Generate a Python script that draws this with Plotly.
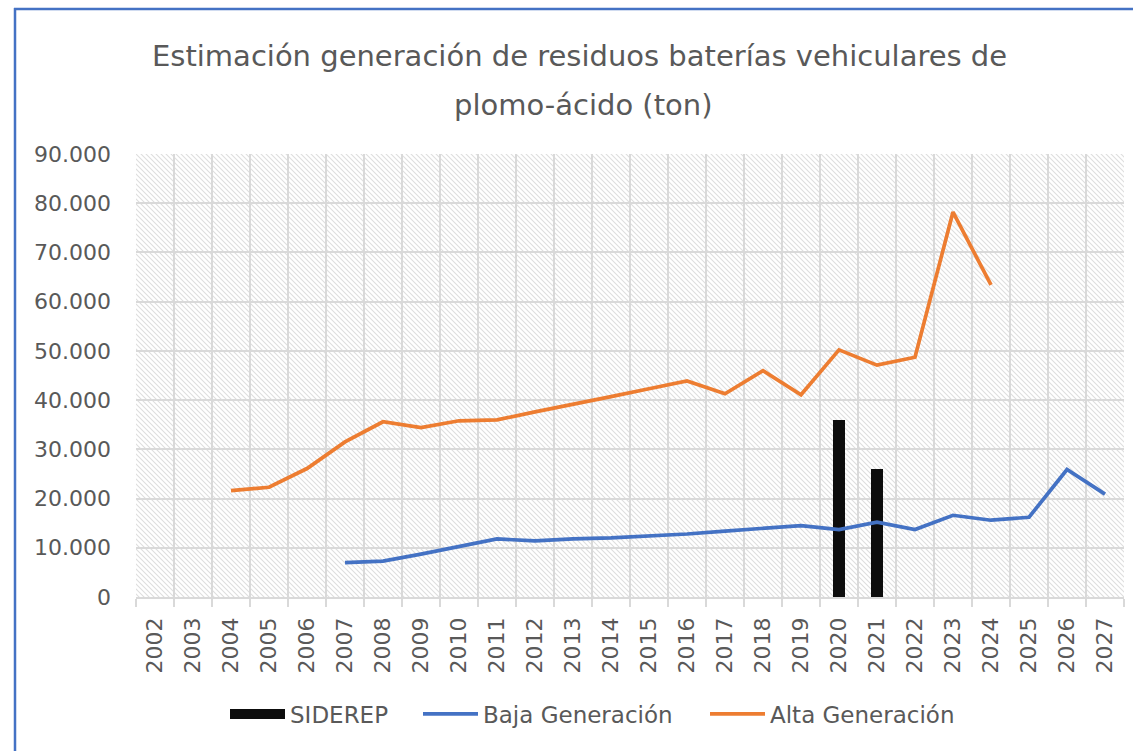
import base64
import plotly.graph_objects as go

years = [str(y) for y in range(2002, 2028)]

siderep = [None] * 18 + [36000, 26000] + [None] * 6
baja = [None] * 5 + [7000, 7300, 8700, 10300, 11800, 11400, 11800, 12000, 12400, 12800,
                     13400, 14000, 14500, 13700, 15200, 13700, 16600, 15600, 16200, 25900, 20900]
alta = [None] * 2 + [21600, 22300, 26100, 31500, 35600, 34400, 35800, 36000, 37600, 39100,
                     40700, 42300, 43900, 41300, 46000, 41100, 50200, 47100, 48700, 78200, 63400] + [None] * 3

GREY = "#595959"
GRID = "#d9d9d9"
FONT_TICK = "DejaVu Sans"
FONT_TEXT = "DejaVu Sans"

W, H = 1133, 751
ML, MR, MT, MB = 136, 9, 154, 154
PW, PH = W - ML - MR, H - MT - MB

# hatched background pattern for the plot area
svg = f'''<svg xmlns="http://www.w3.org/2000/svg" width="{PW}" height="{PH}">
<defs><pattern id="h" width="5" height="5" patternUnits="userSpaceOnUse">
<path d="M-1,-1 L6,6 M-1,4 L1,6 M4,-1 L6,1" stroke="#dedede" stroke-width="1.1"/>
</pattern></defs><rect width="{PW}" height="{PH}" fill="#ffffff"/>
<rect width="{PW}" height="{PH}" fill="url(#h)"/></svg>'''
svg_uri = "data:image/svg+xml;base64," + base64.b64encode(svg.encode()).decode()

fig = go.Figure()
fig.add_trace(go.Bar(x=years, y=siderep, name="SIDEREP", marker_color="#0d0d0d",
                     width=0.34, marker_line_width=0, showlegend=False, legendgroup="sid"))
# legend entry for the bars (wide black block, as in the original legend)
fig.add_trace(go.Scatter(x=[None], y=[None], name="SIDEREP", mode="lines", legendgroup="sid",
                         legend="legend", line=dict(color="#0d0d0d", width=18)))
fig.add_trace(go.Scatter(x=years, y=baja, name="Baja Generación", mode="lines", legend="legend2",
                         line=dict(color="#4472C4", width=3.7)))
fig.add_trace(go.Scatter(x=years, y=alta, name="Alta Generación", mode="lines", legend="legend3",
                         line=dict(color="#ED7D31", width=3.7)))

def px2x(px):
    return (px - ML) / PW

def px2y(py):
    return (H - MB - py) / PH

def legend_at(px):
    return dict(orientation="h", x=px2x(px), y=px2y(714), xanchor="left", yanchor="middle",
                font=dict(family=FONT_TEXT, size=23, color=GREY),
                itemwidth=55, bgcolor="rgba(0,0,0,0)")

fig.update_layout(
    width=W, height=H,
    margin=dict(l=ML, r=MR, t=MT, b=MB),
    paper_bgcolor="white", plot_bgcolor="white",
    separators=",.",
    showlegend=True,
    legend=legend_at(230 - 5),
    legend2=legend_at(424 - 6),
    legend3=legend_at(711 - 6),
    images=[dict(source=svg_uri, xref="paper", yref="paper", x=0, y=1, sizex=1, sizey=1,
                 sizing="stretch", layer="below", xanchor="left", yanchor="top")],
    annotations=[
        dict(text="Estimación generación de residuos baterías vehiculares de", xref="paper", yref="paper",
             x=px2x(579), y=px2y(56), xanchor="center", yanchor="middle", showarrow=False,
             font=dict(family=FONT_TEXT, size=29, color=GREY)),
        dict(text="plomo-ácido (ton)", xref="paper", yref="paper",
             x=px2x(583), y=px2y(105), xanchor="center", yanchor="middle", showarrow=False,
             font=dict(family=FONT_TEXT, size=29, color=GREY)),
    ],
    shapes=[
        dict(type="line", xref="paper", yref="paper", x0=px2x(15), x1=px2x(15), y0=px2y(8), y1=px2y(760),
             line=dict(color="#4472C4", width=2.5)),
        dict(type="line", xref="paper", yref="paper", x0=px2x(14), x1=px2x(1140), y0=px2y(9), y1=px2y(9),
             line=dict(color="#4472C4", width=2.5)),
    ],
    bargap=0,
)

fig.update_xaxes(type="category", tickson="boundaries", tickangle=-90,
                 showgrid=True, gridcolor=GRID, gridwidth=1.5,
                 showline=True, linecolor=GRID, linewidth=1.5,
                 ticks="outside", ticklen=8, tickcolor=GRID, tickwidth=1.5,
                 tickfont=dict(family=FONT_TICK, size=22, color=GREY),
                 ticklabelstandoff=10, range=[-0.5, 25.5])
fig.update_yaxes(range=[0, 90000], dtick=10000, tickformat=",d",
                 showgrid=True, gridcolor=GRID, gridwidth=1.5, zeroline=False,
                 showline=False, ticks="",
                 tickfont=dict(family=FONT_TICK, size=22, color=GREY),
                 ticklabelstandoff=24)

fig.write_html("out.html", config={"displayModeBar": False},
               post_script="document.body.style.margin='0px';")
